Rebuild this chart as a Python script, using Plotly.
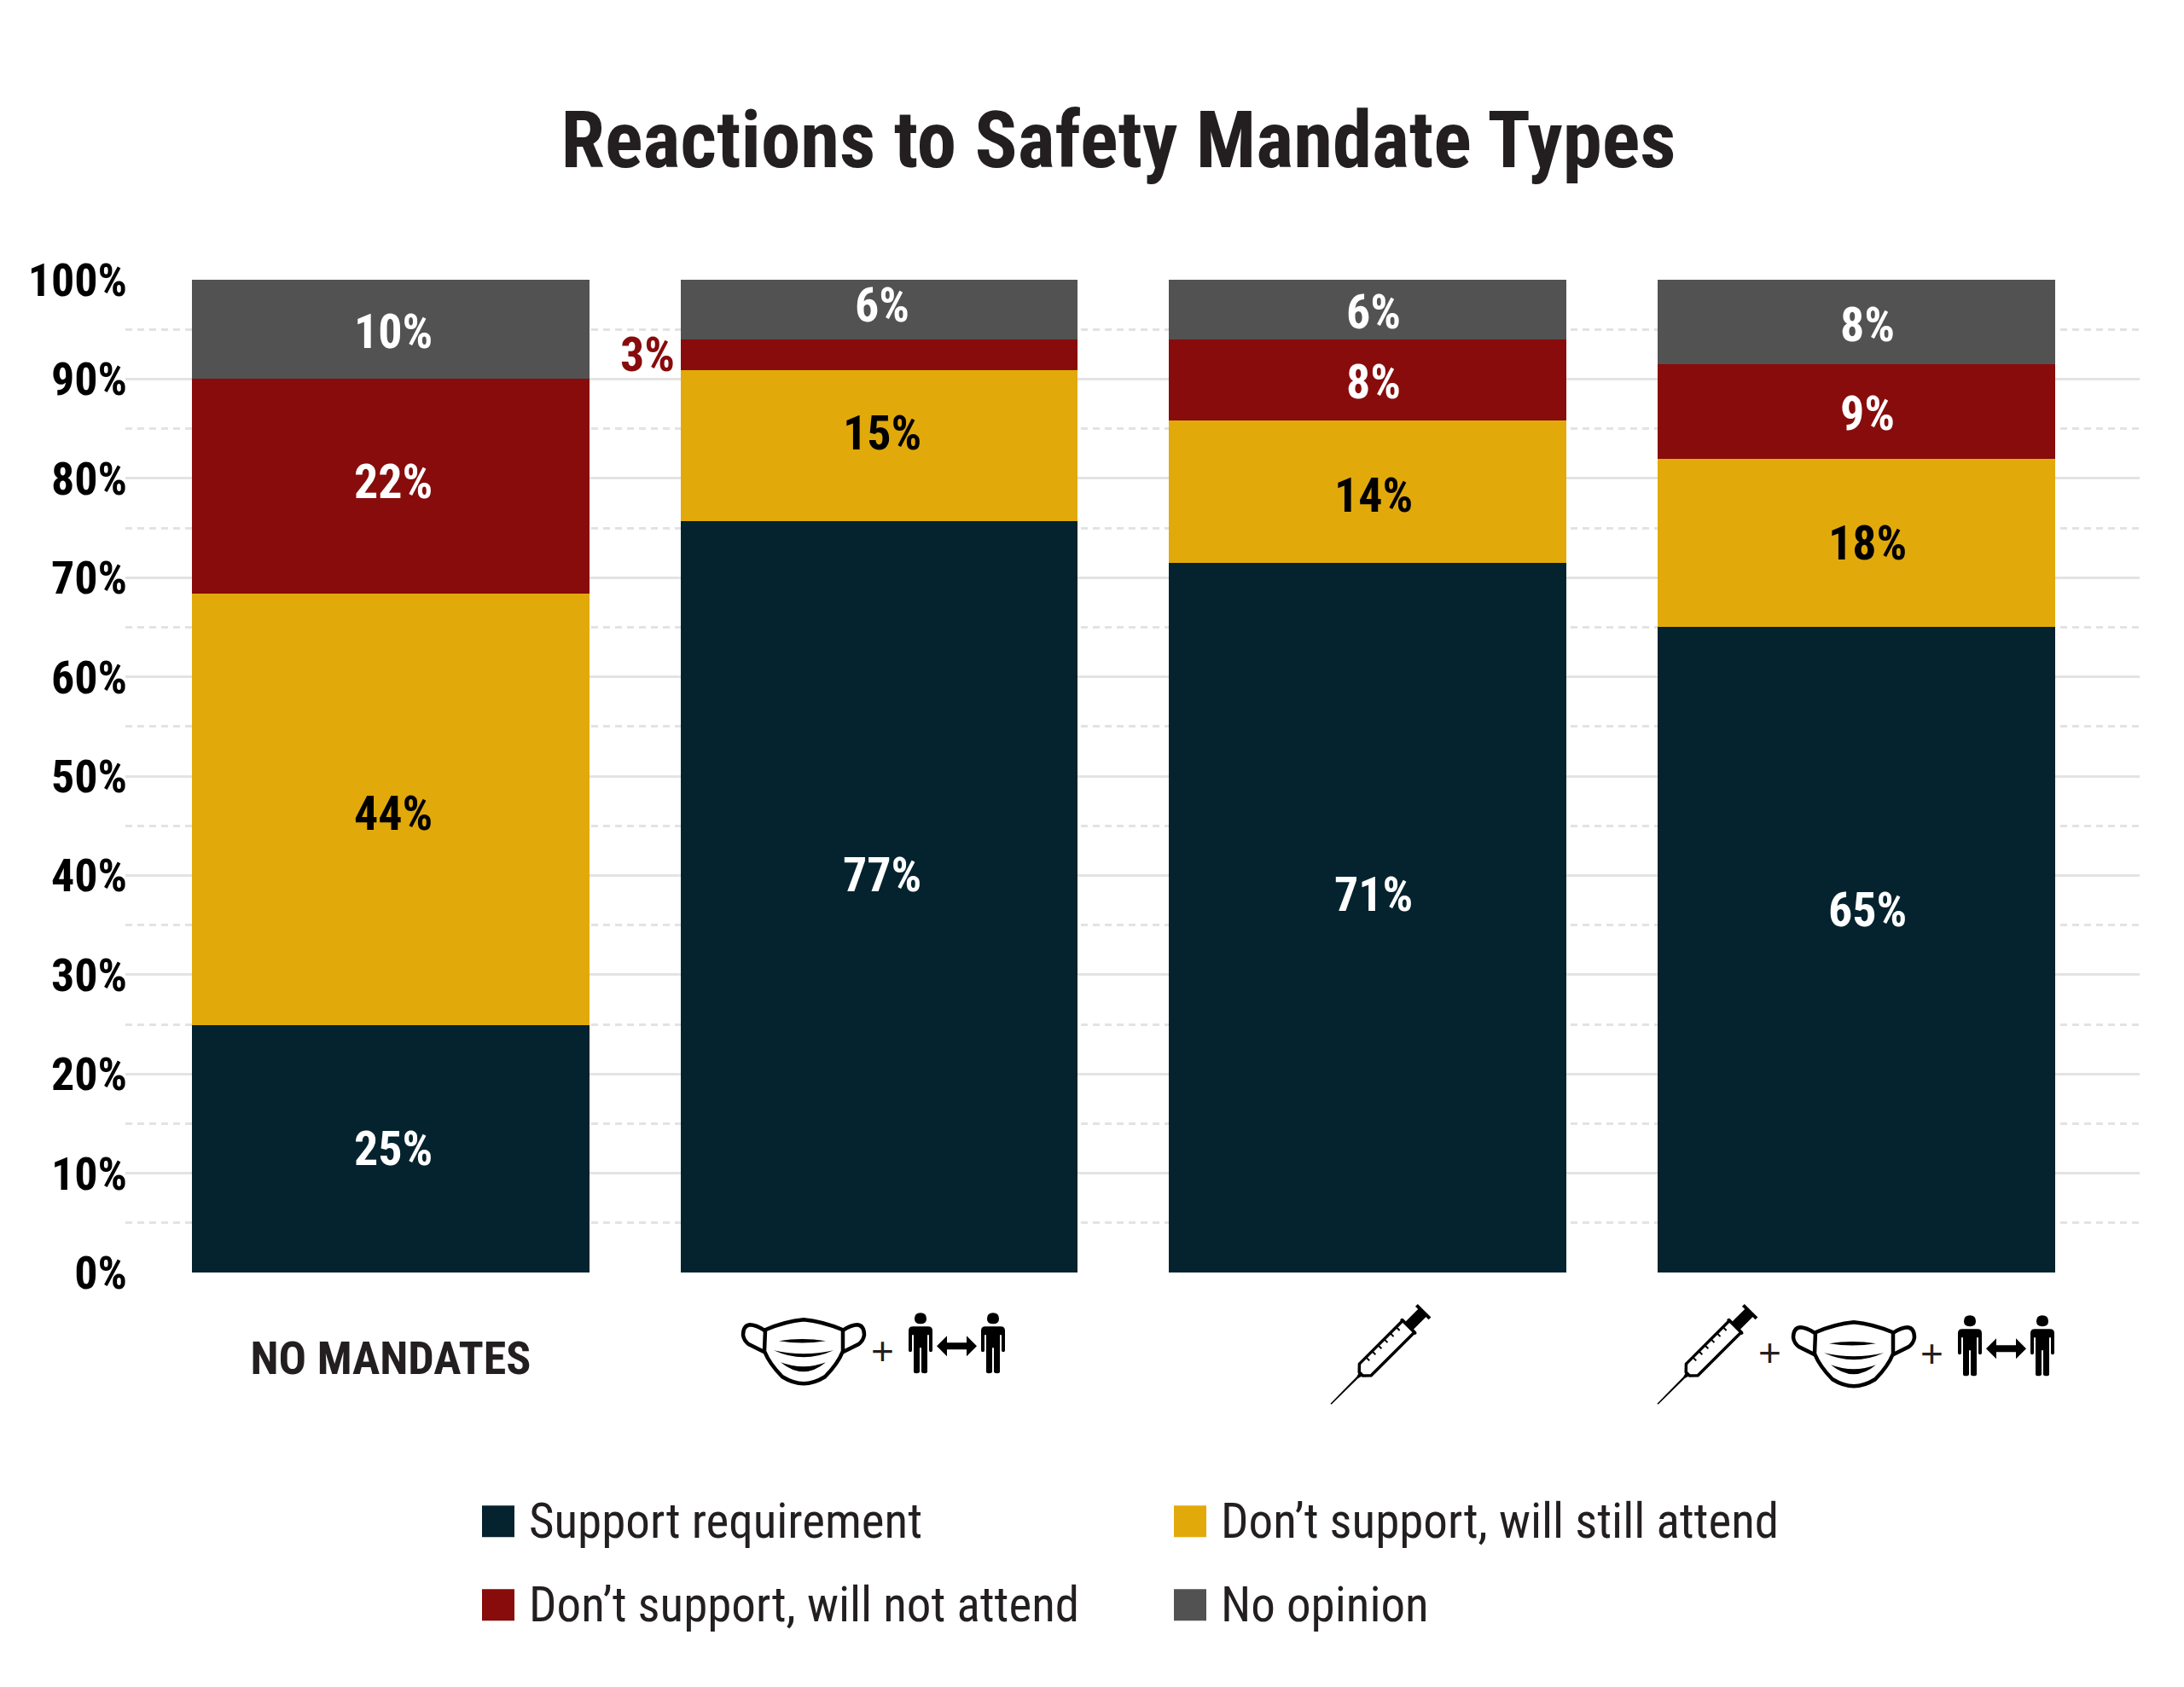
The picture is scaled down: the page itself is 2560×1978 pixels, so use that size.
import re
import math
import plotly.graph_objects as go

title = "Reactions to Safety Mandate Types"
categories = ["NO MANDATES", "", "", ""]
series_names = ["Support requirement", "Don\u2019t support, will still attend", "Don\u2019t support, will not attend", "No opinion"]
colors = ["#04232e", "#e2a90b", "#870c0b", "#525252"]

# segment heights as drawn in the picture
support = [24.9, 75.7, 71.5, 65.0]
still_attend = [43.5, 15.2, 14.3, 17.0]
not_attend = [21.6, 3.1, 8.2, 9.5]
no_opinion = [10.0, 6.0, 6.0, 8.5]

# printed labels, they don't always agree with the bar heights
support_labels = ["25%", "77%", "71%", "65%"]
still_attend_labels = ["44%", "15%", "14%", "18%"]
not_attend_labels = ["22%", "3%", "8%", "9%"]
no_opinion_labels = ["10%", "6%", "6%", "8%"]

y_ticks = [0, 10, 20, 30, 40, 50, 60, 70, 80, 90, 100]
y_tick_labels = ["0%", "10%", "20%", "30%", "40%", "50%", "60%", "70%", "80%", "90%", "100%"]

# label nudges in pixels (labels were placed by hand in the original)
label_dx = [3, 3, 7, 13]
label_dy = [
    [0, 25, 27, 47],
    [-5, 14, -4, -1],
    [5, 0, -2, -3],
    [-3, 5, -3, -4],
]
label_colors = ["white", "black", "white", "white"]

FONT = "Roboto Condensed"
W, H = 2560, 1978
PAGE = 8  # body margin of the html page
L, R, T, B = 147, 2508, 327.5, 1491.7

series = [support, still_attend, not_attend, no_opinion]
series_labels = [support_labels, still_attend_labels, not_attend_labels, no_opinion_labels]


def paper(x, y):
    return (x - L) / (R - L), (B - y) / (B - T)


def place(path, ox, oy, rot=False):
    # path is written in local pixels, only M L Q C Z commands with x y pairs
    parts = re.findall(r"[MLQCZ]|-?\d+\.?\d*", path)
    out = []
    nums = []
    for p in parts:
        if p.isalpha():
            out.append(p)
        else:
            nums.append(float(p))
            if len(nums) == 2:
                u, v = nums
                nums = []
                if rot:
                    px = ox + (u + v) / math.sqrt(2)
                    py = oy - (u - v) / math.sqrt(2)
                else:
                    px = ox + u
                    py = oy + v
                xp, yp = paper(px, py)
                out.append(f"{xp:.5f} {yp:.5f}")
    return " ".join(out)


def shape(path, fill="black", line=0, line_color="black"):
    d = dict(type="path", path=path, xref="paper", yref="paper", fillcolor=fill,
             line=dict(color=line_color, width=line))
    return d


MASK_OUTLINE = "M72 0 Q50 2 27 12 L26 37 Q32 52 47 67 Q60 75 72 75 Q84 75 97 67 Q112 52 118 37 L118 12 Q94 2 72 0 Z"
EAR_L = "M27 13 Q16 6 9 6 Q1 7 1 18 Q2 25 8 29 L26 38"
EAR_R = "M117 13 Q128 6 135 6 Q143 7 143 18 Q142 25 136 29 L118 38"
PLEAT_1 = "M43 25 Q70 20.4 98 25 Q70 29.6 43 25 Z"
PLEAT_2 = "M37 36 Q72 44 107 36 Q72 52 37 36 Z"
PLEAT_3 = "M45 50 Q72 60 98 50 Q72 72 45 50 Z"
PERSON = ("M5 16 L23 16 Q28 16 28 21 L28 44 Q28 46 26 46 Q24 46 24 44 L24 26 L22 26 L22 69 Q22 71 19 71 "
          "Q15 71 15 69 L15 41 L13 41 L13 69 Q13 71 9 71 Q6 71 6 69 L6 26 L4 26 L4 44 Q4 46 2 46 Q0 46 0 44 "
          "L0 21 Q0 16 5 16 Z")
HEAD = "M14 0 Q21 0 21 7 Q21 13 14 13 Q7 13 7 7 Q7 0 14 0 Z"
ARROW = "M0 0 L12 -12 L12 -4 L35 -4 L35 -12 L47 0 L35 12 L35 4 L12 4 L12 12 Z"
NEEDLE = "M0 -0.8 L44 -1.2 L50 -3 L50 3 L44 1.2 L0 0.8 Z"
BARREL = "M50 -3 L57 -9.7 L129 -9.7 L129 9.7 L57 9.7 L50 3 Z"
COLLAR = "M127 -12.5 L130 -12.5 L130 12.5 L127 12.5 Z"
PLUNGER = "M129 -6.5 L152 -6.5 L152 6.5 L129 6.5 Z"
THUMB = "M151 -11 L155 -11 L155 11 L151 11 Z"


def add_mask(shapes, ox, oy):
    shapes.append(shape(place(MASK_OUTLINE, ox, oy), fill="white", line=4.5))
    shapes.append(shape(place(EAR_L, ox, oy), fill="rgba(0,0,0,0)", line=4.5))
    shapes.append(shape(place(EAR_R, ox, oy), fill="rgba(0,0,0,0)", line=4.5))
    for p in [PLEAT_1, PLEAT_2, PLEAT_3]:
        shapes.append(shape(place(p, ox, oy)))


def add_person(shapes, ox, oy):
    shapes.append(shape(place(PERSON, ox, oy)))
    shapes.append(shape(place(HEAD, ox, oy)))


def add_distance(shapes, ox, oy):
    # two people with an arrow in between
    add_person(shapes, ox, oy)
    shapes.append(shape(place(ARROW, ox + 33, oy + 39)))
    add_person(shapes, ox + 85, oy)


def add_syringe(shapes, ox, oy):
    shapes.append(shape(place(NEEDLE, ox, oy, True)))
    shapes.append(shape(place(BARREL, ox, oy, True), fill="white", line=3.5))
    for u in [68, 78, 88, 98, 108, 118]:
        shapes.append(shape(place(f"M{u} -9 L{u} -4", ox, oy, True), fill="rgba(0,0,0,0)", line=2))
    shapes.append(shape(place(COLLAR, ox, oy, True)))
    shapes.append(shape(place(PLUNGER, ox, oy, True)))
    shapes.append(shape(place(THUMB, ox, oy, True)))


fig = go.Figure()
for name, vals, color in zip(series_names, series, colors):
    fig.add_trace(go.Bar(x=[0, 1, 2, 3], y=vals, name=name, marker=dict(color=color, line=dict(width=0)),
                         width=0.813, showlegend=False))

annotations = []
for s in range(4):
    for c in range(4):
        base = sum(series[k][c] for k in range(s))
        col = label_colors[s]
        dx = label_dx[c]
        # the 3% doesn't fit, it sits left of its bar in the series colour
        if series_labels[s][c] == "3%":
            col = colors[s]
            dx = -272
        annotations.append(dict(x=c, y=base + series[s][c] / 2, xref="x", yref="y", text=series_labels[s][c],
                                showarrow=False, xshift=dx, yshift=label_dy[s][c],
                                font=dict(family=FONT, size=56, color=col, weight=700)))

# legend drawn by hand since the plotly swatches can't get this big
shapes = []
legend_x = [565, 1376, 565, 1376]
legend_y = [1765, 1765, 1863, 1863]
for name, color, lx, ly in zip(series_names, colors, legend_x, legend_y):
    x0, y0 = paper(lx, ly)
    x1, y1 = paper(lx + 38, ly + 37)
    shapes.append(dict(type="rect", xref="paper", yref="paper", x0=x0, y0=y0, x1=x1, y1=y1,
                       fillcolor=color, line=dict(width=0)))
    tx, ty = paper(lx + 53, ly + 18)
    annotations.append(dict(x=tx, y=ty, xref="paper", yref="paper", text=name, showarrow=False,
                            xanchor="left", yanchor="middle",
                            font=dict(family=FONT, size=57, color="#231f20")))

# category icons
add_mask(shapes, 870, 1547)
add_distance(shapes, 1065, 1539)
add_syringe(shapes, 1560, 1646)
add_syringe(shapes, 1943, 1646)
add_mask(shapes, 2101, 1550)
add_distance(shapes, 2295, 1542)

for px, py in [(1034, 1584), (2074, 1586), (2264, 1587)]:
    xp, yp = paper(px, py)
    annotations.append(dict(x=xp, y=yp, xref="paper", yref="paper", text="+", showarrow=False,
                            xanchor="center", yanchor="middle",
                            font=dict(family="Liberation Sans", size=46, color="#231f20")))

fig.update_layout(
    width=W - PAGE, height=H - PAGE,
    margin=dict(l=L - PAGE, r=W - R, t=T - PAGE, b=H - B, autoexpand=False),
    paper_bgcolor="white", plot_bgcolor="white",
    barmode="stack",
    title=dict(text=title, x=(1311 - PAGE) / (W - PAGE), xanchor="center", y=1 - (163 - PAGE) / (H - PAGE), yanchor="middle",
               font=dict(family=FONT, size=93, color="#231f20", weight=700)),
    annotations=annotations,
    shapes=shapes,
)
fig.update_xaxes(range=[-0.543, 3.58], tickvals=[0, 1, 2, 3], ticktext=categories, showgrid=False,
                 zeroline=False, showline=False, ticks="", ticklabelstandoff=64,
                 tickfont=dict(family=FONT, size=54, color="#231f20", weight=700))
fig.update_yaxes(range=[0, 100], tickvals=y_ticks, ticktext=y_tick_labels, showgrid=True, gridcolor="#e3e3e3",
                 gridwidth=3, zeroline=False, showline=False, ticks="", ticklabelstandoff=-3,
                 tickfont=dict(family=FONT, size=54, color="black", weight=700),
                 minor=dict(tick0=5, dtick=10, showgrid=True, gridcolor="#e3e3e3", gridwidth=3, griddash="8px,6px"))

fig.write_html("out.html")
